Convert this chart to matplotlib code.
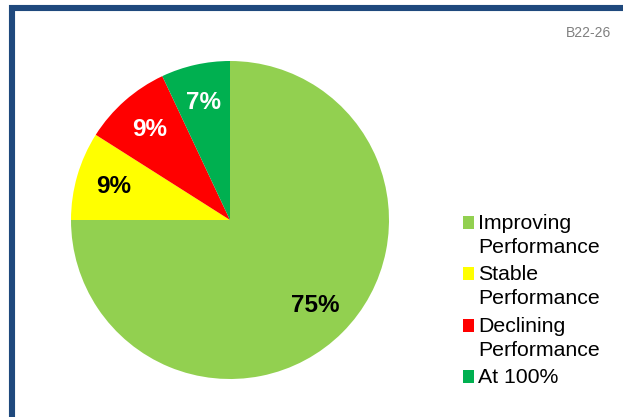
import matplotlib
matplotlib.use("Agg")
import matplotlib.pyplot as plt
from matplotlib.patches import Rectangle

categories = ["Improving\nPerformance", "Stable\nPerformance", "Declining\nPerformance", "At 100%"]
values = [75, 9, 9, 7]
colors = ["#92D050", "#FFFF00", "#FF0000", "#00B050"]
label_colors = ["black", "black", "white", "white"]
chart_id = "B22-26"

plt.rcParams['font.family'] = ['Liberation Sans', 'DejaVu Sans']
W, H = 623, 417
fig = plt.figure(figsize=(W / 100, H / 100), dpi=100)

# frame
frame = Rectangle((12 / W, -0.2), 1.5, (H - 8) / H + 0.2, transform=fig.transFigure,
                  fill=False, edgecolor="#1F497D", lw=4.4, clip_on=False)
fig.add_artist(frame)

cx, cy, r = 230, 220, 159
ax = fig.add_axes([(cx - r) / W, (H - cy - r) / H, 2 * r / W, 2 * r / H])
wedges, texts, autotexts = ax.pie(values, colors=colors, startangle=90, counterclock=False,
                                  autopct=lambda p: f"{p:.0f}%", pctdistance=0.76,
                                  radius=1, wedgeprops=dict(linewidth=0))
ax.set_xlim(-1, 1)
ax.set_ylim(-1, 1)
ax.set_aspect("equal")
for t, c in zip(autotexts, label_colors):
    t.set_color(c)
    t.set_fontsize(17.5)
    t.set_fontweight("bold")

# legend (first line of each label aligned with its swatch)
line_h, gap, y0 = 24, 3.3, 229
lines_before = 0
for i, (lab, c) in enumerate(zip(categories, colors)):
    base = y0 + line_h * lines_before + gap * i
    fig.add_artist(Rectangle((463 / W, (H - base) / H), 11 / W, 13 / H,
                             transform=fig.transFigure, facecolor=c, edgecolor="none"))
    for j, ln in enumerate(lab.split("\n")):
        fig.text(478 / W, (H - base - j * line_h) / H, ln, ha="left", va="baseline",
                 fontsize=15.3, color="black")
    lines_before += len(lab.split("\n"))

fig.text(611 / W, 1 - 37 / H, chart_id, ha="right", va="baseline", fontsize=10, color="#808080")

fig.savefig("out.png", dpi=100)
